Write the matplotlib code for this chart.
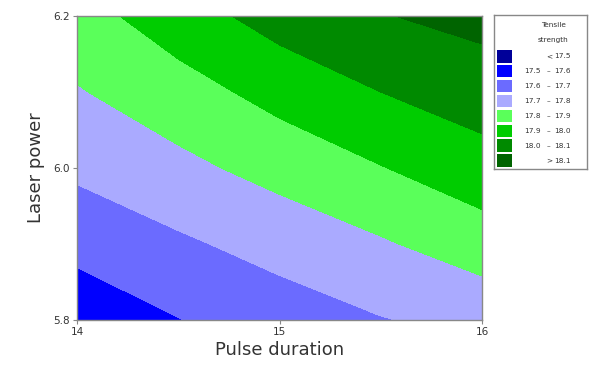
import matplotlib

matplotlib.use("Agg")
import matplotlib.pyplot as plt
import numpy as np
from matplotlib.patches import Rectangle

# ---- data (response surface on a coarse grid) ----
pulse_duration = [14.0, 14.5, 15.0, 15.5, 16.0]
laser_power = [5.8, 5.9, 6.0, 6.1, 6.2]
tensile = [
    [17.530, 17.597, 17.649, 17.695, 17.730],  # P = 5.8
    [17.631, 17.684, 17.736, 17.789, 17.851],  # P = 5.9
    [17.719, 17.775, 17.834, 17.896, 17.959],  # P = 6.0
    [17.793, 17.858, 17.935, 18.000, 18.050],  # P = 6.1
    [17.860, 17.955, 18.040, 18.095, 18.130],  # P = 6.2
]
levels = [17.5, 17.6, 17.7, 17.8, 17.9, 18.0, 18.1]
legend_labels = [("", "<", "17.5"), ("17.5", "\u2013", "17.6"), ("17.6", "\u2013", "17.7"),
                 ("17.7", "\u2013", "17.8"), ("17.8", "\u2013", "17.9"), ("17.9", "\u2013", "18.0"),
                 ("18.0", "\u2013", "18.1"), ("", ">", "18.1")]
x_ticks = [14, 15, 16]
y_ticks = [5.8, 6.0, 6.2]

# ---- palette (Minitab style) ----
COLORS = ["#000099", "#0000FF", "#6B6BFF", "#AAAAFF",
          "#5AFF5A", "#00CC00", "#008A00", "#006400"]
INK = "#333333"
FRAME = "#888888"

fig = plt.figure(figsize=(5.95, 3.67), dpi=100)
ax = fig.add_axes((77 / 595, 1 - 320 / 367, 405 / 595, 304 / 367))

Z = np.array(tensile)
bounds = [-1e9] + levels + [1e9]
ax.contourf(pulse_duration, laser_power, Z, levels=bounds, colors=COLORS)

ax.set_xlim(14, 16)
ax.set_ylim(5.8, 6.2)
ax.set_xticks(x_ticks)
ax.set_xticklabels([str(t) for t in x_ticks])
ax.set_yticks(y_ticks)
ax.set_yticklabels([f"{t:.1f}" for t in y_ticks])
ax.tick_params(length=3, width=0.8, color=FRAME, labelsize=7.5, labelcolor=INK, pad=2)
for s in ax.spines.values():
    s.set_color(FRAME)
    s.set_linewidth(1.0)

ax.set_xlabel("Pulse duration", fontsize=13, color=INK, labelpad=3)
ax.set_ylabel("Laser power", fontsize=13, color=INK, labelpad=6)

# ---- legend panel ----
lax = fig.add_axes((494 / 595, 1 - 169 / 367, 93 / 595, 154 / 367))
lax.set_xlim(0, 93)
lax.set_ylim(154, 0)
lax.set_xticks([])
lax.set_yticks([])
for s in lax.spines.values():
    s.set_color(FRAME)
    s.set_linewidth(1.0)

lax.text(59, 10, "Tensile", ha="center", va="center", fontsize=5.3, color=INK)
lax.text(59, 25, "strength", ha="center", va="center", fontsize=5.3, color=INK)
for i, (lo, mid, hi) in enumerate(legend_labels):
    y0 = 35 + i * 14.9
    lax.add_patch(Rectangle((3, y0), 15, 12.5, facecolor=COLORS[i], edgecolor="none"))
    yc = y0 + 6.5
    if lo:
        lax.text(47, yc, lo, ha="right", va="center", fontsize=5.3, color=INK)
    lax.text(55, yc, mid, ha="center", va="center", fontsize=5.3, color=INK)
    lax.text(77, yc, hi, ha="right", va="center", fontsize=5.3, color=INK)

fig.savefig("out.png", dpi=100)
